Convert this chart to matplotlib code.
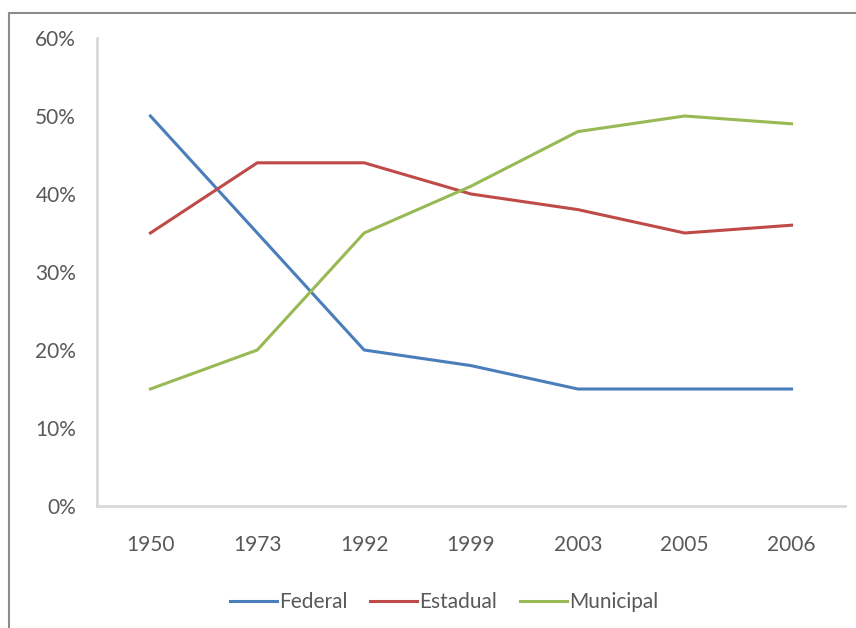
import matplotlib.pyplot as plt
from matplotlib.lines import Line2D

anos = ['1950', '1973', '1992', '1999', '2003', '2005', '2006']
federal = [50, 35, 20, 18, 15, 15, 15]
estadual = [35, 44, 44, 40, 38, 35, 36]
municipal = [15, 20, 35, 41, 48, 50, 49]

cores = {'Federal': '#4A7EBB', 'Estadual': '#BE4B48', 'Municipal': '#98B954'}

plt.rcParams['font.family'] = ['Lato', 'DejaVu Sans']

fig = plt.figure(figsize=(8.56, 6.28), dpi=100)
ax = fig.add_axes([97 / 856, 1 - 506 / 628, (845 - 97) / 856, (506 - 38) / 628])

x = list(range(len(anos)))
ax.plot(x, federal, color=cores['Federal'], lw=2.2, label='Federal')
ax.plot(x, estadual, color=cores['Estadual'], lw=2.2, label='Estadual')
ax.plot(x, municipal, color=cores['Municipal'], lw=2.2, label='Municipal')

ax.set_xlim(-0.5, len(anos) - 0.5)
ax.set_ylim(0, 60)
ax.set_xticks(x)
ax.set_xticklabels(anos)
ax.set_yticks(range(0, 61, 10))
ax.set_yticklabels([f'{v}%' for v in range(0, 61, 10)])
ax.tick_params(length=0, labelsize=15, colors='#595959')
ax.tick_params(axis='x', pad=21)
ax.tick_params(axis='y', pad=15)

for lado in ['top', 'right']:
    ax.spines[lado].set_visible(False)
for lado in ['left', 'bottom']:
    ax.spines[lado].set_color('#D9D9D9')
    ax.spines[lado].set_linewidth(2)

leg = ax.legend(loc='center', bbox_to_anchor=(444 / 856, 1 - 602 / 628),
                bbox_transform=fig.transFigure, ncol=3, frameon=False,
                fontsize=15, handlelength=2.25, handletextpad=0.1,
                columnspacing=1.1)
for t in leg.get_texts():
    t.set_color('#595959')

# moldura cinza da imagem (só topo e esquerda aparecem)
fig.add_artist(Line2D([9 / 856, 1], [1 - 13 / 628, 1 - 13 / 628],
                      transform=fig.transFigure, color='#8C8C8C', lw=1.5))
fig.add_artist(Line2D([9 / 856, 9 / 856], [0, 1 - 13 / 628],
                      transform=fig.transFigure, color='#8C8C8C', lw=1.5))

fig.savefig('out.png', dpi=100)
